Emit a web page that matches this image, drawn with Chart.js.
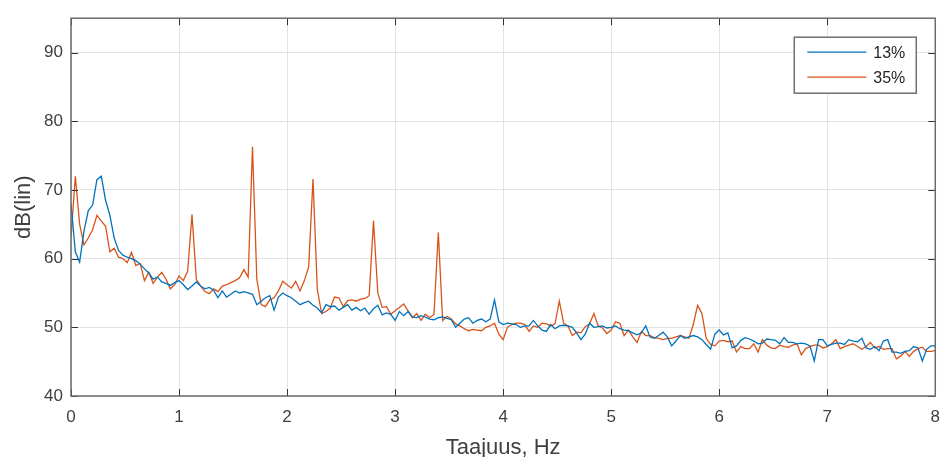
<!DOCTYPE html>
<html>
<head>
<meta charset="utf-8">
<script src="https://cdn.jsdelivr.net/npm/chart.js@4.4.1/dist/chart.umd.min.js"></script>
<style>
  html, body { margin: 0; padding: 0; background: #fff; }
  #wrap { width: 951px; height: 457px; }
</style>
</head>
<body>
<div id="wrap"><canvas id="spectrum" width="951" height="457"></canvas></div>
<script>
// Data (one value every 0.04 Hz)
const freq = Array.from({ length: 201 }, (_, i) => +(i * 0.04).toFixed(2));

const series13 = [
  68, 61, 59.5, 64, 67, 67.8, 71.5, 72, 68.5, 66.3,
  63, 61.2, 60.5, 60.2, 60, 59.7, 59.2, 58.5, 57.9, 57,
  57.3, 56.6, 56.4, 56.1, 56.5, 56.8, 56.2, 55.5, 56, 56.6,
  56, 55.6, 55.8, 55.4, 54.3, 55.3, 54.4, 54.8, 55.3, 55,
  55.2, 55, 54.8, 53.3, 53.8, 54.3, 54.6, 52.5, 54.4, 55,
  54.6, 54.3, 53.8, 53.3, 53.6, 53.8, 53.2, 52.8, 52.1, 53.3,
  53, 53.1, 52.5, 52.9, 53.3, 52.5, 52.9, 52.4, 52.8, 51.9,
  52.7, 53.2, 51.8, 52.1, 51.9, 51, 52.3, 51.7, 52.3, 51.5,
  51.4, 51.7, 51.5, 51.2, 51.1, 51.4, 51.5, 51.3, 51.1, 50,
  50.6, 51.2, 51.4, 50.6, 51, 51.2, 50.8, 51.2, 54, 50.8,
  50.4, 50.6, 50.5, 50.4, 50, 50.2, 50.2, 51, 50.2, 49.6,
  49.4, 50.4, 49.8, 50.2, 50.3, 50.2, 50, 49.2, 48.2, 49,
  50.6, 50, 50.1, 50.2, 49.9, 50, 50.2, 49.8, 49.6, 49.5,
  49.2, 48.9, 49.2, 50.2, 48.6, 48.4, 48.8, 49.3, 48.6, 47.3,
  48, 48.8, 48.4, 48.6, 48.8, 48.6, 48.2, 47.5, 46.8, 49,
  49.6, 48.9, 49.2, 47, 47.3, 48.1, 48.5, 48.3, 48, 47.6,
  47.7, 48.3, 48.2, 48.1, 47.6, 48.5, 47.8, 47.8, 47.6, 47.7,
  47.6, 47.3, 45.1, 48.2, 48.2, 47.3, 47.5, 47.7, 47.7, 47.5,
  48.2, 48, 47.9, 48.4, 47, 46.8, 47.2, 46.6, 48, 48.2,
  46.4, 46.4, 46.2, 46.5, 46.6, 47.2, 47, 45.1, 46.8, 47.3,
  47.3
];

const series35 = [
  63, 72, 65, 62, 63, 64.2, 66.3, 65.5, 64.7, 61,
  61.5, 60.2, 60, 59.4, 60.9, 59, 59.3, 56.8, 58, 56.4,
  57.3, 58, 57, 55.6, 56.2, 57.5, 56.8, 58.2, 66.4, 57,
  56, 55.2, 54.9, 55.6, 55.2, 56, 56.2, 56.5, 56.8, 57.2,
  58.4, 57.3, 76.3, 57, 53.3, 53, 54, 54.3, 55.3, 56.7,
  56.2, 55.7, 56.7, 55.3, 56.8, 58.8, 71.6, 55.5, 52, 52.3,
  52.8, 54.4, 54.3, 53, 53.9, 54, 53.8, 54.1, 54.2, 54.6,
  65.5, 55, 52.9, 53, 51.9, 52.4, 52.9, 53.4, 52.4, 51.4,
  52, 51, 51.9, 51.4, 51.9, 63.8, 51, 51.6, 51.2, 50.5,
  50.2, 49.8, 49.5, 49.7, 49.6, 49.5, 50, 50.2, 50.6, 49,
  48.2, 50, 50.4, 50.6, 50.6, 50.4, 49.4, 50.2, 50, 50.6,
  50.5, 50.2, 50.5, 53.8, 50.6, 50.2, 48.8, 49.3, 49.2, 50.1,
  50.5, 52, 50.2, 49.9, 49.1, 49.6, 50.8, 50.6, 48.8, 49.6,
  48.6, 47.8, 49.4, 48.8, 48.8, 48.5, 48.4, 48.2, 48.4, 48.4,
  48.6, 48.8, 48.6, 48.4, 50.4, 53.2, 52, 48.4, 47.5, 47.3,
  48, 48.1, 47.9, 48, 46.4, 47.2, 46.9, 46.9, 47.6, 46.4,
  48.2, 47.4, 47, 46.9, 47.4, 47.2, 47.1, 47.4, 47.6, 46,
  46.9, 47.2, 47.4, 47.4, 47, 47.2, 47.6, 48.2, 46.9, 47.2,
  47.4, 47.6, 47.2, 46.8, 47.2, 47.8, 47, 47.2, 46.8, 46.9,
  46.9, 45.4, 45.8, 46.5, 45.8, 46.5, 46.9, 47.1, 46.5, 46.5,
  46.6
];

const seriesLabels = ['13%', '35%'];
const seriesColors = ['#0072BD', '#D95319'];
const xTicks = [0, 1, 2, 3, 4, 5, 6, 7, 8];
const yTicks = [40, 50, 60, 70, 80, 90];

const textColor = '#404040';
Chart.defaults.font.family = '"Liberation Sans", Arial, sans-serif';

function toPoints(values) {
    return freq.map((f, i) => ({ x: f, y: values[i] }));
}

// MATLAB style box, inward ticks and legend inside the axes
const matlabAxes = {
    id: 'matlabAxes',
    afterDatasetsDraw(chart) {
        const { ctx, chartArea: a, scales: { x, y } } = chart;
        ctx.save();

        ctx.strokeStyle = '#333';
        ctx.lineWidth = 1;
        ctx.beginPath();
        xTicks.forEach(v => {
            const px = Math.round(x.getPixelForValue(v)) + 0.5;
            ctx.moveTo(px, a.bottom); ctx.lineTo(px, a.bottom - 7);
            ctx.moveTo(px, a.top); ctx.lineTo(px, a.top + 7);
        });
        yTicks.forEach(v => {
            const py = Math.round(y.getPixelForValue(v)) + 0.5;
            ctx.moveTo(a.left, py); ctx.lineTo(a.left + 7, py);
            ctx.moveTo(a.right, py); ctx.lineTo(a.right - 7, py);
        });
        ctx.stroke();

        ctx.strokeStyle = '#6b6b6b';
        ctx.lineWidth = 1.5;
        ctx.strokeRect(a.left, a.top, a.right - a.left, a.bottom - a.top);

        // legend box
        const lw = 122, lh = 56;
        const lx = a.right - 19 - lw, ly = a.top + 19;
        ctx.fillStyle = '#fff';
        ctx.fillRect(lx, ly, lw, lh);
        ctx.strokeStyle = '#707070';
        ctx.lineWidth = 1.5;
        ctx.strokeRect(lx, ly, lw, lh);

        ctx.font = '16px "Liberation Sans", Arial, sans-serif';
        ctx.textBaseline = 'middle';
        ctx.textAlign = 'left';
        chart.data.datasets.forEach((ds, i) => {
            const rowY = ly + 15 + i * 25;
            ctx.strokeStyle = ds.borderColor;
            ctx.lineWidth = 1.3;
            ctx.beginPath();
            ctx.moveTo(lx + 13, rowY); ctx.lineTo(lx + 72, rowY);
            ctx.stroke();
            ctx.fillStyle = '#262626';
            ctx.fillText(ds.label, lx + 79, rowY + 1);
        });

        ctx.restore();
    }
};

const ctx = document.getElementById('spectrum').getContext('2d');
new Chart(ctx, {
    type: 'line',
    data: {
        datasets: [
            { label: seriesLabels[0], data: toPoints(series13), borderColor: seriesColors[0], borderWidth: 1.3, pointRadius: 0, tension: 0 },
            { label: seriesLabels[1], data: toPoints(series35), borderColor: seriesColors[1], borderWidth: 1.3, pointRadius: 0, tension: 0 }
        ]
    },
    options: {
        responsive: false,
        animation: false,
        layout: { padding: { top: 15, right: 7, left: 0, bottom: 0 } },
        plugins: {
            legend: { display: false },
            tooltip: { enabled: false }
        },
        scales: {
            x: {
                type: 'linear',
                min: 0,
                max: 8,
                afterBuildTicks: s => { s.ticks = xTicks.map(v => ({ value: v })); },
                afterFit: s => { s.height = 61; },
                ticks: { color: textColor, font: { size: 17 }, padding: 11, maxRotation: 0 },
                grid: { color: '#e3e3e3', drawTicks: false },
                border: { display: false },
                title: { display: true, text: 'Taajuus, Hz', color: textColor, font: { size: 22, lineHeight: 0.8 }, padding: 0 }
            },
            y: {
                min: 40,
                max: 95,
                afterBuildTicks: s => { s.ticks = yTicks.map(v => ({ value: v })); },
                afterFit: s => { s.width = 71; },
                ticks: { color: textColor, font: { size: 17 }, padding: 8 },
                grid: { color: '#e3e3e3', drawTicks: false },
                border: { display: false },
                title: { display: true, text: 'dB(lin)', color: textColor, font: { size: 22 }, padding: { top: 11, bottom: 0 } }
            }
        }
    },
    plugins: [matlabAxes]
});
</script>
</body>
</html>
